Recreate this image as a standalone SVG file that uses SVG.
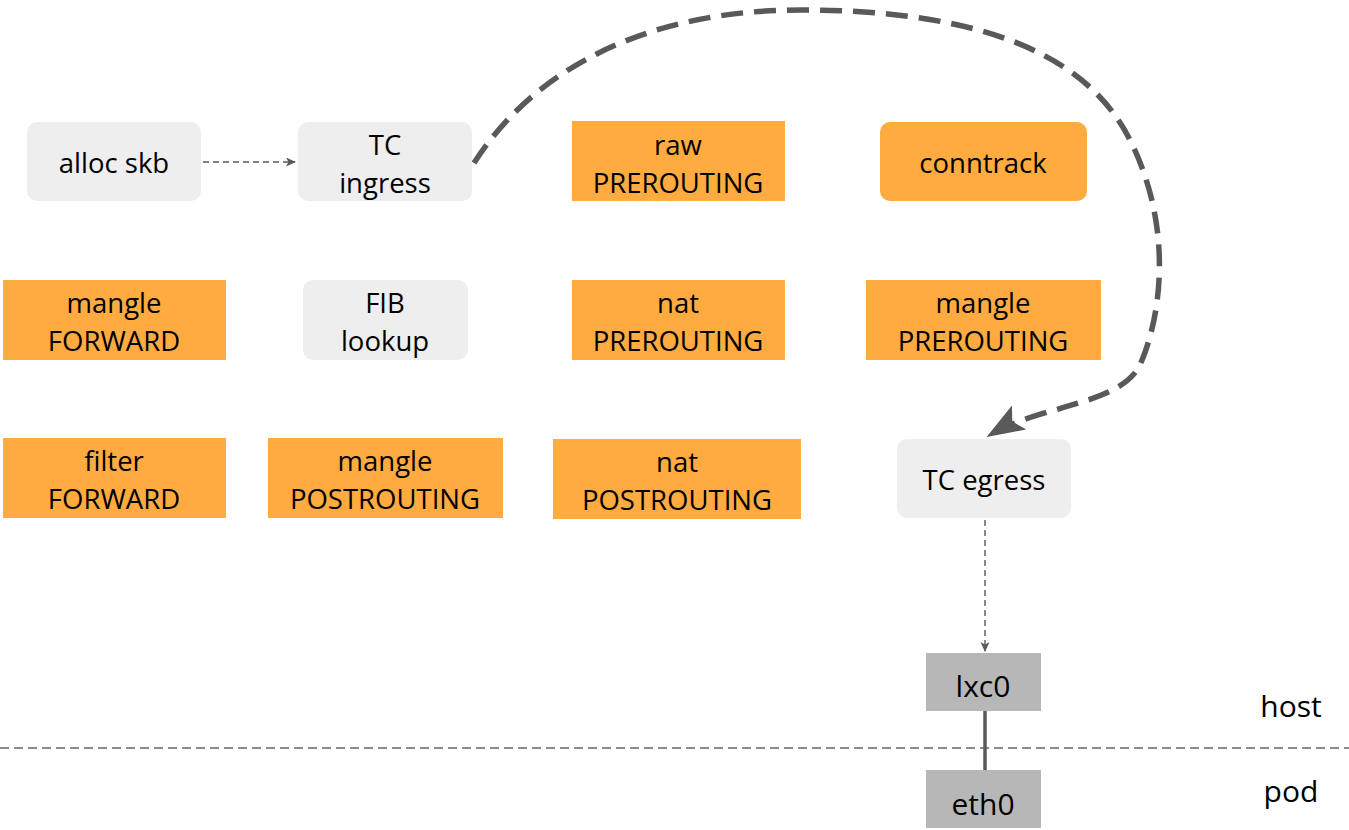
<svg xmlns="http://www.w3.org/2000/svg" width="1349" height="830" viewBox="0 0 1349 830">
  <style>
    .gray { fill: #eeeeee; }
    .orange { fill: #ffab40; }
    .dev { fill: #b7b7b7; }
    text { font-family: "Open Sans", "Liberation Sans", sans-serif; font-size: 27.5px; fill: #000; text-anchor: middle; }
    .big { font-size: 30px; }
    .thin { fill: none; stroke: #595959; stroke-width: 1.4; stroke-dasharray: 6 4; }
    .path { fill: none; stroke: #595959; stroke-width: 5.5; stroke-dasharray: 22 11; }
  </style>
  <defs>
    <marker id="small" markerUnits="userSpaceOnUse" markerWidth="12" markerHeight="10" refX="9" refY="4.5" orient="auto">
      <path d="M0,0 L10,4.5 L0,9 L2.5,4.5 Z" fill="#595959"/>
    </marker>
    <marker id="big" markerUnits="userSpaceOnUse" markerWidth="40" markerHeight="30" refX="34" refY="14" orient="auto">
      <path d="M0,0 L38,14 L0,28 L8,14 Z" fill="#595959"/>
    </marker>
  </defs>

  <rect width="1349" height="830" fill="#ffffff"/>

  <!-- row 1 -->
  <g id="alloc-skb">
    <rect class="gray" x="27" y="122" width="174" height="79" rx="10"/>
    <text x="114" y="173">alloc skb</text>
  </g>
  <g id="tc-ingress">
    <rect class="gray" x="298" y="122" width="174" height="79" rx="10"/>
    <text x="385" y="155">TC</text>
    <text x="385" y="193">ingress</text>
  </g>
  <g id="raw-prerouting">
    <rect class="orange" x="572" y="121" width="213" height="80"/>
    <text x="678" y="155">raw</text>
    <text x="678" y="193">PREROUTING</text>
  </g>
  <g id="conntrack">
    <rect class="orange" x="880" y="122" width="207" height="79" rx="10"/>
    <text x="983" y="173">conntrack</text>
  </g>

  <!-- row 2 -->
  <g id="mangle-forward">
    <rect class="orange" x="3" y="280" width="223" height="80"/>
    <text x="114" y="313">mangle</text>
    <text x="114" y="351">FORWARD</text>
  </g>
  <g id="fib-lookup">
    <rect class="gray" x="303" y="280" width="165" height="80" rx="10"/>
    <text x="385" y="313">FIB</text>
    <text x="385" y="351">lookup</text>
  </g>
  <g id="nat-prerouting">
    <rect class="orange" x="572" y="280" width="213" height="80"/>
    <text x="678" y="313">nat</text>
    <text x="678" y="351">PREROUTING</text>
  </g>
  <g id="mangle-prerouting">
    <rect class="orange" x="866" y="280" width="235" height="80"/>
    <text x="983" y="313">mangle</text>
    <text x="983" y="351">PREROUTING</text>
  </g>

  <!-- row 3 -->
  <g id="filter-forward">
    <rect class="orange" x="3" y="438" width="223" height="80"/>
    <text x="114" y="471">filter</text>
    <text x="114" y="509">FORWARD</text>
  </g>
  <g id="mangle-postrouting">
    <rect class="orange" x="268" y="438" width="235" height="80"/>
    <text x="385" y="471">mangle</text>
    <text x="385" y="509">POSTROUTING</text>
  </g>
  <g id="nat-postrouting">
    <rect class="orange" x="553" y="439" width="248" height="80"/>
    <text x="677" y="472">nat</text>
    <text x="677" y="510">POSTROUTING</text>
  </g>
  <g id="tc-egress">
    <rect class="gray" x="897" y="439" width="174" height="79" rx="10"/>
    <text x="984" y="490">TC egress</text>
  </g>

  <!-- interfaces -->
  <g id="lxc0">
    <rect class="dev" x="926" y="653" width="115" height="58"/>
    <text class="big" x="983" y="697">lxc0</text>
  </g>
  <g id="eth0">
    <rect class="dev" x="926" y="770" width="115" height="58"/>
    <text class="big" x="983" y="815">eth0</text>
  </g>

  <!-- namespace labels -->
  <g id="labels">
    <text class="big" x="1291" y="717">host</text>
    <text class="big" x="1291" y="802">pod</text>
  </g>

  <!-- connectors -->
  <g id="connectors">
    <line x1="0" y1="748" x2="1349" y2="748" stroke="#666666" stroke-width="1.5" stroke-dasharray="9 5"/>
    <line x1="985" y1="711" x2="985" y2="770" stroke="#595959" stroke-width="3.5"/>
    <line class="thin" x1="203" y1="162" x2="295" y2="162" marker-end="url(#small)"/>
    <line class="thin" x1="985" y1="520" x2="985" y2="651" marker-end="url(#small)"/>
    <path class="path" d="M474,163 C540,60 660,10 800,10 C950,10 1080,40 1130,140 C1175,230 1160,320 1140,365 C1120,405 1040,405 990,435" marker-end="url(#big)"/>
  </g>
</svg>
